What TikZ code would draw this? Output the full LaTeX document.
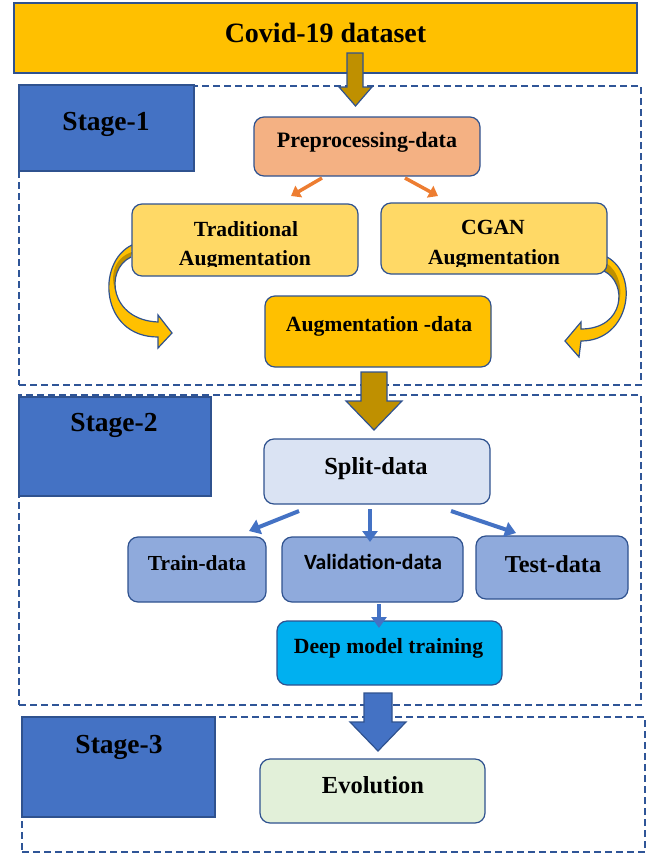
\documentclass[tikz,border=0pt]{standalone}
\usepackage{fontspec}
\setmainfont{Liberation Serif}
\newfontfamily\calibrifont{Carlito}
\usetikzlibrary{arrows.meta}

\definecolor{gold}{HTML}{FFC000}
\definecolor{darkgold}{HTML}{BF9000}
\definecolor{lightgold}{HTML}{FFD966}
\definecolor{edgeblue}{HTML}{2F528F}
\definecolor{framecol}{HTML}{2F5597}
\definecolor{stageblue}{HTML}{4472C4}
\definecolor{peach}{HTML}{F4B183}
\definecolor{orangeline}{HTML}{ED7D31}
\definecolor{paleblue}{HTML}{DAE3F3}
\definecolor{midblue}{HTML}{8FAADC}
\definecolor{cyanbox}{HTML}{00B0F0}
\definecolor{palegreen}{HTML}{E2F0D9}

\begin{document}
\begin{tikzpicture}[x=1pt,y=-1pt,
  box/.style={draw=edgeblue,line width=1.2pt,rounded corners=10pt,inner sep=0pt,outer sep=0pt},
  sharpbox/.style={draw=edgeblue,line width=1.2pt,inner sep=0pt,outer sep=0pt},
  frame/.style={draw=framecol,line width=1.3pt,dash pattern=on 7pt off 4pt,inner sep=0pt,outer sep=0pt},
  txt/.style={anchor=base,inner sep=0pt,font=\bfseries},
  bandedge/.style={draw=edgeblue,line width=1.2pt,line join=miter},
  blockarrow/.style={draw=edgeblue,line width=1.2pt,line join=miter},
  orangearrow/.style={draw=orangeline,line width=3.5pt,-{Triangle[length=9pt,width=13pt]}},
  bluearrow/.style={draw=stageblue,line width=4pt,-{Triangle[length=11pt,width=15pt]}}]
\useasboundingbox (0,0) rectangle (657,854);

% dashed stage frames
\node[frame,minimum width=622pt,minimum height=299pt] (frame1) at (330,235.5) {};
\node[frame,minimum width=622pt,minimum height=310pt] (frame2) at (330,550) {};
\node[frame,minimum width=623pt,minimum height=135pt] (frame3) at (333.5,784.5) {};

% curved ribbon arrows into the augmented data (drawn before the boxes they leave)
\path[save path=\leftribbon]
  (131,257) .. controls (104,270) and (110,320) .. (158,322)
  -- (158,315) -- (172,333) -- (158,348) -- (158,337)
  .. controls (100,337) and (96,262) .. (132,245);
\fill[gold,use path=\leftribbon];
\fill[darkgold] (131,257) .. controls (117.5,263.5) and (112.25,279.25) .. (116.4,293.6)
  .. controls (109,276) and (114,258) .. (132,252) -- cycle;
\draw[bandedge,use path=\leftribbon];

\path[save path=\rightribbon]
  (604,271) .. controls (628,283) and (625,329) .. (581,329)
  -- (581,322) -- (565,341) -- (579,357) -- (581,341)
  .. controls (630,341) and (640,275) .. (607,257);
\fill[gold,use path=\rightribbon];
\fill[darkgold] (604,271) .. controls (616,277) and (621.25,291.5) .. (618,304.5)
  .. controls (624,290) and (618,270) .. (606,263) -- cycle;
\draw[bandedge,use path=\rightribbon];

% source box
\node[sharpbox,fill=gold,minimum width=623pt,minimum height=70pt] (covid) at (325.5,38) {};
\node[txt,font=\bfseries\fontsize{28}{30}\selectfont] (tcovid) at (325.5,42) {Covid-19 dataset};

% stage labels
\node[sharpbox,fill=stageblue,minimum width=175pt,minimum height=86pt] (s1) at (106.5,128) {};
\node[sharpbox,fill=stageblue,minimum width=192pt,minimum height=99pt] (s2) at (115,446.5) {};
\node[sharpbox,fill=stageblue,minimum width=193pt,minimum height=100pt] (s3) at (118.5,767) {};
\node[txt,font=\bfseries\fontsize{27.5}{30}\selectfont] (ts1) at (106,130) {Stage-1};
\node[txt,font=\bfseries\fontsize{27.5}{30}\selectfont] (ts2) at (114,431) {Stage-2};
\node[txt,font=\bfseries\fontsize{27.5}{30}\selectfont] (ts3) at (119,753) {Stage-3};

% stage 1 boxes
\node[box,fill=peach,minimum width=226pt,minimum height=59pt] (pre) at (367,146.5) {};
\node[box,fill=lightgold,minimum width=226pt,minimum height=72pt] (trad) at (245,240) {};
\node[box,fill=lightgold,minimum width=226pt,minimum height=71pt] (cgan) at (494,238.5) {};
\node[box,fill=gold,minimum width=226pt,minimum height=71pt] (aug) at (378,331.5) {};
\node[txt,font=\bfseries\fontsize{22}{24}\selectfont] (tpre) at (367,147) {Preprocessing-data};
\node[txt,font=\bfseries\fontsize{21.6}{24}\selectfont] (ttrad1) at (246,236) {Traditional};
\node[txt,font=\bfseries\fontsize{21.6}{24}\selectfont] (tcgan1) at (493,234) {CGAN};
\begin{scope}
  \clip (trad.north west) rectangle (cgan.east |- 0,266.5);
  \node[txt,font=\bfseries\fontsize{21.6}{24}\selectfont] (ttrad2) at (245,265) {Augmentation};
  \node[txt,font=\bfseries\fontsize{21.6}{24}\selectfont] (tcgan2) at (494,264) {Augmentation};
\end{scope}
\node[txt,font=\bfseries\fontsize{21.7}{24}\selectfont] (taug) at (379,331) {Augmentation -data};

% stage 2 boxes
\node[box,fill=paleblue,minimum width=226pt,minimum height=65pt] (split) at (377,471.5) {};
\node[box,fill=midblue,minimum width=138pt,minimum height=65pt] (train) at (197,569.5) {};
\node[box,fill=midblue,minimum width=181pt,minimum height=65pt] (valid) at (372.5,569.5) {};
\node[box,fill=midblue,minimum width=152pt,minimum height=63pt] (test) at (552,567.5) {};
\node[box,fill=cyanbox,minimum width=225pt,minimum height=64pt] (deep) at (389.5,653) {};
\node[txt,font=\bfseries\fontsize{24.5}{26}\selectfont] (tsplit) at (376,474) {Split-data};
\node[txt,font=\bfseries\fontsize{21.4}{24}\selectfont] (ttrain) at (197,570) {Train-data};
\node[txt,font=\calibrifont\bfseries\fontsize{21.7}{24}\selectfont] (tvalid) at (373,569) {Validation-data};
\node[txt,font=\bfseries\fontsize{24.3}{26}\selectfont] (ttest) at (553,572) {Test-data};
\node[txt,font=\bfseries\fontsize{21.7}{24}\selectfont] (tdeep) at (388.5,653) {Deep model training};

% stage 3 box
\node[box,fill=palegreen,minimum width=225pt,minimum height=64pt] (evo) at (372.5,791) {};
\node[txt,font=\bfseries\fontsize{24.5}{26}\selectfont] (tevo) at (373,793) {Evolution};

% block arrows between stages
\draw[blockarrow,fill=darkgold] (347,53) -- (347,87) -- (339,87) -- (355.5,106) -- (372,87) -- (363,87) -- (363,53) -- cycle;
\draw[blockarrow,fill=darkgold] (361,372) -- (361,401) -- (346,401) -- (374,430) -- (402,401) -- (387,401) -- (387,372) -- cycle;
\draw[blockarrow,fill=stageblue] (364,693) -- (364,722) -- (350,722) -- (378,751) -- (406,722) -- (392,722) -- (392,693) -- cycle;

% thin connectors
\draw[orangearrow] ([shift={(-45,2)}]pre.south) -- ([shift={(46,-8)}]trad.north);
\draw[orangearrow] ([shift={(38,2)}]pre.south) -- ([shift={(-56,-7)}]cgan.north);
\draw[bluearrow] ([shift={(-78,7)}]split.south) -- ([shift={(52,-6)}]train.north);
\draw[bluearrow,line width=3.2pt] ([shift={(-7,5)}]split.south) -- ([shift={(-2.5,5)}]valid.north);
\draw[bluearrow] ([shift={(74,7)}]split.south) -- ([shift={(-36,-3)}]test.north);
\draw[bluearrow,line width=3.2pt] ([shift={(6.5,2)}]valid.south) -- ([shift={(-10.5,7)}]deep.north);
\end{tikzpicture}
\end{document}
